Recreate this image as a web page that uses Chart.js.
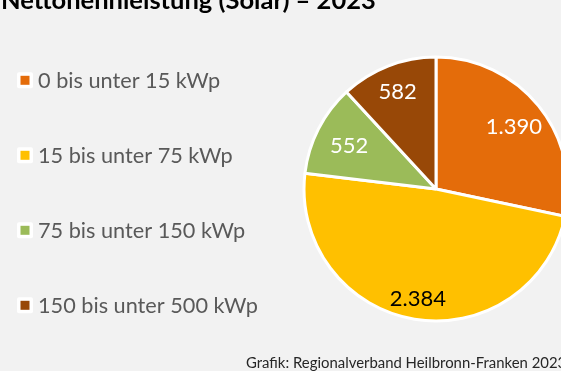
<!DOCTYPE html>
<html lang="de">
<head>
<meta charset="utf-8">
<title>Nettonennleistung (Solar) – 2023</title>
<script src="https://cdn.jsdelivr.net/npm/chart.js@4.4.1/dist/chart.umd.min.js"></script>
<style>
  html, body { margin: 0; padding: 0; background: #f2f2f2; overflow: hidden; }
  #wrap { position: relative; width: 561px; height: 371px; }
  canvas { display: block; }
</style>
</head>
<body>
<div id="wrap"><canvas id="chart" width="561" height="371"></canvas></div>
<script>
// Anlagen nach Leistungsklasse, Nettonennleistung in kWp-Klassen
const categories = ['0 bis unter 15 kWp', '15 bis unter 75 kWp', '75 bis unter 150 kWp', '150 bis unter 500 kWp'];
const values = [1390, 2384, 552, 582];
const sliceColors = ['#E46C0A', '#FFC000', '#9BBB59', '#984807'];
const labelColors = ['#FFFFFF', '#000000', '#FFFFFF', '#FFFFFF'];
const titleText = 'Nettonennleistung (Solar) – 2023';
const sourceText = 'Grafik: Regionalverband Heilbronn-Franken 2023';

const FONT = 'Lato, "Open Sans", "DejaVu Sans", sans-serif';

// German thousands separator: 1390 -> "1.390"
function formatDe(n) {
  return String(n).replace(/\B(?=(\d{3})+(?!\d))/g, '.');
}

const background = {
  id: 'background',
  beforeDraw(chart) {
    const ctx = chart.ctx;
    ctx.save();
    ctx.fillStyle = '#F2F2F2';
    ctx.fillRect(0, 0, chart.width, chart.height);
    ctx.restore();
  }
};

// Value labels inside the slices, placed along each slice's mid angle
const sliceLabels = {
  id: 'sliceLabels',
  afterDatasetsDraw(chart, args, opts) {
    const ctx = chart.ctx;
    const meta = chart.getDatasetMeta(0);
    const data = chart.data.datasets[0].data;
    ctx.save();
    ctx.font = opts.font;
    ctx.textAlign = 'center';
    ctx.textBaseline = 'middle';
    meta.data.forEach((arc, i) => {
      const p = arc.getProps(['x', 'y', 'startAngle', 'endAngle', 'outerRadius'], true);
      const mid = (p.startAngle + p.endAngle) / 2;
      const r = p.outerRadius * opts.radial[i];
      ctx.fillStyle = labelColors[i];
      ctx.fillText(formatDe(data[i]), p.x + Math.cos(mid) * r, p.y + Math.sin(mid) * r + 1);
    });
    ctx.restore();
  }
};

// Legend column on the left, title on top, source line at the bottom
const frame = {
  id: 'frame',
  afterDraw(chart, args, opts) {
    const ctx = chart.ctx;
    ctx.save();

    ctx.textAlign = 'left';
    ctx.textBaseline = 'alphabetic';
    ctx.fillStyle = '#000000';
    ctx.font = opts.titleFont;
    ctx.fillText(titleText, opts.titleX, opts.titleY);

    chart.data.labels.forEach((name, i) => {
      const cy = opts.legendTop + i * opts.legendStep;
      ctx.fillStyle = '#FFFFFF';
      ctx.beginPath();
      ctx.roundRect(opts.legendX, cy - 8, 16, 16, 2);
      ctx.fill();
      ctx.fillStyle = chart.data.datasets[0].backgroundColor[i];
      ctx.fillRect(opts.legendX + 3.5, cy - 4.5, 9, 9);
      ctx.fillStyle = '#595959';
      ctx.font = opts.legendFont;
      ctx.fillText(name, opts.legendX + 21, cy + 7.7);
    });

    ctx.fillStyle = '#262626';
    ctx.font = opts.sourceFont;
    ctx.fillText(sourceText, opts.sourceX, opts.sourceY);
    ctx.restore();
  }
};

new Chart(document.getElementById('chart'), {
  type: 'pie',
  data: {
    labels: categories,
    datasets: [{
      data: values,
      backgroundColor: sliceColors,
      borderColor: '#FFFFFF',
      borderWidth: 3,
      radius: 132,
      clip: false
    }]
  },
  options: {
    responsive: false,
    animation: false,
    devicePixelRatio: 1,
    radius: 132,
    layout: { padding: { left: 311, right: 0, top: 7, bottom: 0 } },
    plugins: {
      legend: { display: false },
      tooltip: { enabled: false },
      sliceLabels: {
        font: '22px ' + FONT,
        radial: [0.76, 0.84, 0.74, 0.80]
      },
      frame: {
        titleFont: 'bold 25.5px ' + FONT,
        titleX: 1,
        titleY: 9,
        legendFont: '21.7px ' + FONT,
        legendX: 17,
        legendTop: 80.3,
        legendStep: 75,
        sourceFont: '14.9px ' + FONT,
        sourceX: 246,
        sourceY: 368
      }
    }
  },
  plugins: [background, sliceLabels, frame]
});
</script>
</body>
</html>
